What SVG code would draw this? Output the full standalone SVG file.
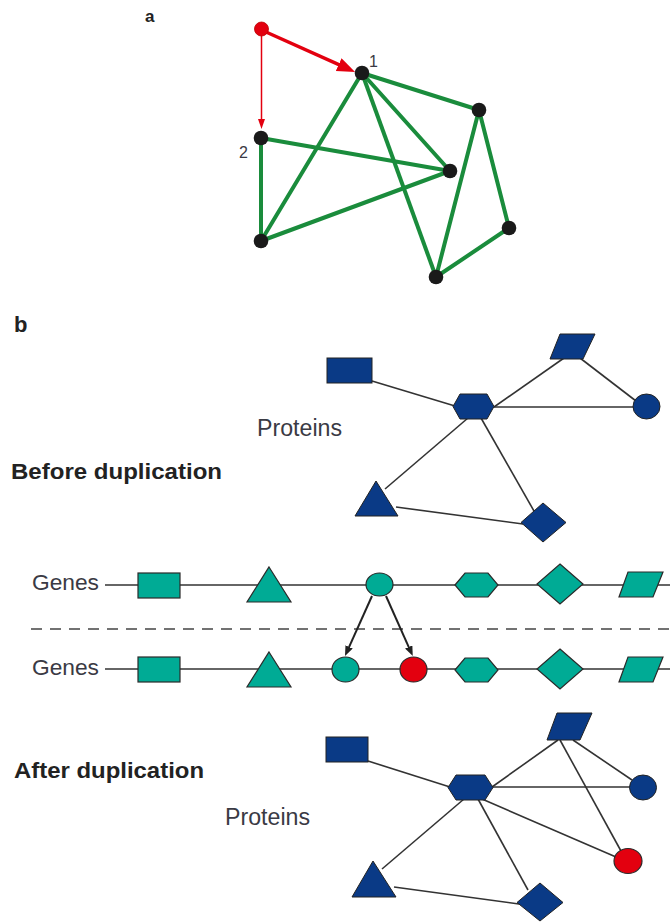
<svg xmlns="http://www.w3.org/2000/svg" width="670" height="922" viewBox="0 0 670 922">
<style>
  .lbl{font-family:"Liberation Sans",Arial,sans-serif;fill:#3a3a44}
  .bold{font-family:"Liberation Sans",Arial,sans-serif;font-weight:bold;fill:#222}
  .green{stroke:#1a8c3c;stroke-width:4;stroke-linecap:round;fill:none}
  .knode{fill:#1a1a1a}
  .edge{stroke:#333;stroke-width:1.6;fill:none}
  .prot{fill:#0a3a86;stroke:#222;stroke-width:1}
  .gene{fill:#00ab95;stroke:#2a2a2a;stroke-width:1.2}
  .red{fill:#e3000f;stroke:#2a2a2a;stroke-width:1.2}
  .dark{stroke:#222;stroke-width:2;fill:none}
</style>
<defs>
  <marker id="redBig" markerUnits="userSpaceOnUse" markerWidth="20" markerHeight="16" refX="2" refY="7" orient="auto">
    <path d="M0,0 L18,7 L0,14 z" fill="#e3000f"/>
  </marker>
  <marker id="redSmall" markerUnits="userSpaceOnUse" markerWidth="12" markerHeight="8" refX="1" refY="3.5" orient="auto">
    <path d="M0,0 L10,3.5 L0,7 z" fill="#e3000f"/>
  </marker>
  <marker id="darkHead" markerUnits="userSpaceOnUse" markerWidth="12" markerHeight="10" refX="1" refY="4" orient="auto">
    <path d="M0,0 L10,4 L0,8 z" fill="#222"/>
  </marker>
</defs>
<rect width="670" height="922" fill="#fff"/>

<!-- Panel a -->
<text class="bold" x="145" y="22" font-size="17">a</text>
<g id="a-connectors">
  <line class="green" x1="362" y1="73" x2="479" y2="110"/>
  <line class="green" x1="362" y1="73" x2="450" y2="171"/>
  <line class="green" x1="362" y1="73" x2="261" y2="241"/>
  <line class="green" x1="362" y1="73" x2="436" y2="277"/>
  <line class="green" x1="261" y1="138" x2="450" y2="171"/>
  <line class="green" x1="261" y1="138" x2="261" y2="241"/>
  <line class="green" x1="261" y1="241" x2="450" y2="171"/>
  <line class="green" x1="479" y1="110" x2="436" y2="277"/>
  <line class="green" x1="479" y1="110" x2="509" y2="228"/>
  <line class="green" x1="436" y1="277" x2="509" y2="228"/>
  <line x1="266" y1="32" x2="340.5" y2="65.4" stroke="#e3000f" stroke-width="3.4" marker-end="url(#redBig)"/>
  <line x1="261.5" y1="34" x2="261.5" y2="120" stroke="#e3000f" stroke-width="1.5" marker-end="url(#redSmall)"/>
</g>
<g id="a-red"><circle cx="261.5" cy="29" r="7" fill="#e3000f" stroke="#b00" stroke-width="0.8"/></g>
<g id="a-n1"><circle class="knode" cx="362" cy="73" r="7.3"/><text class="lbl" x="369" y="67" font-size="16">1</text></g>
<g id="a-n2"><circle class="knode" cx="261" cy="138" r="7.3"/><text class="lbl" x="239" y="158" font-size="16">2</text></g>
<g id="a-tr"><circle class="knode" cx="479" cy="110" r="7.3"/></g>
<g id="a-mr"><circle class="knode" cx="450" cy="171" r="7.3"/></g>
<g id="a-bl"><circle class="knode" cx="261" cy="241" r="7.3"/></g>
<g id="a-b"><circle class="knode" cx="436" cy="277" r="7.3"/></g>
<g id="a-r"><circle class="knode" cx="509" cy="228" r="7.3"/></g>

<!-- Panel b -->
<text class="bold" x="14" y="332" font-size="22">b</text>
<text class="bold" x="11" y="479" font-size="22" textLength="211" lengthAdjust="spacingAndGlyphs">Before duplication</text>
<text class="lbl" x="257" y="436" font-size="23" textLength="85" lengthAdjust="spacingAndGlyphs">Proteins</text>
<text class="bold" x="14" y="778" font-size="22" textLength="190" lengthAdjust="spacingAndGlyphs">After duplication</text>
<text class="lbl" x="225" y="825" font-size="23" textLength="85" lengthAdjust="spacingAndGlyphs">Proteins</text>

<g id="b-connectors">
  <!-- before -->
  <line class="edge" x1="372" y1="381" x2="455" y2="406"/>
  <line class="edge" x1="494" y1="407" x2="564" y2="358"/>
  <line class="edge" x1="580" y1="358" x2="636" y2="401"/>
  <line class="edge" x1="494" y1="407" x2="634" y2="407"/>
  <line class="edge" x1="468" y1="418" x2="385" y2="489"/>
  <line class="edge" x1="481" y1="418" x2="534" y2="511"/>
  <line class="edge" x1="396" y1="507" x2="523" y2="524"/>
  <!-- genes -->
  <line class="edge" x1="105" y1="585" x2="670" y2="585"/>
  <line x1="31" y1="629" x2="670" y2="629" stroke="#444" stroke-width="1.6" stroke-dasharray="11 8"/>
  <line class="edge" x1="105" y1="669" x2="670" y2="669"/>
  <line class="dark" x1="372" y1="596" x2="348.7" y2="647.8" marker-end="url(#darkHead)"/>
  <line class="dark" x1="386" y1="596" x2="409.1" y2="647.9" marker-end="url(#darkHead)"/>
  <!-- after -->
  <line class="edge" x1="368" y1="761" x2="450" y2="787"/>
  <line class="edge" x1="492" y1="787" x2="558" y2="740"/>
  <line class="edge" x1="573" y1="740" x2="632" y2="780"/>
  <line class="edge" x1="560" y1="740" x2="621" y2="851"/>
  <line class="edge" x1="492" y1="787" x2="630" y2="787"/>
  <line class="edge" x1="482" y1="799" x2="616" y2="857"/>
  <line class="edge" x1="464" y1="799" x2="382" y2="869"/>
  <line class="edge" x1="478" y1="799" x2="528" y2="890"/>
  <line class="edge" x1="394" y1="887" x2="519" y2="904"/>
</g>

<!-- Proteins before -->
<g id="pb-rect"><rect class="prot" x="327" y="358" width="45" height="25"/></g>
<g id="pb-para"><polygon class="prot" points="560,334 595,334 583,359 550,359"/></g>
<g id="pb-hex"><polygon class="prot" points="453,406.5 460,394 487,394 494,406.5 487,419 460,419"/></g>
<g id="pb-circle"><ellipse class="prot" cx="646.5" cy="406.5" rx="13.5" ry="12.5"/></g>
<g id="pb-tri"><polygon class="prot" points="376,481 398,516 355,516"/></g>
<g id="pb-diamond"><polygon class="prot" points="543,503 566,522.5 543,542 521,522.5"/></g>

<!-- Genes top -->
<text class="lbl" x="32" y="590" font-size="21.5" textLength="67" lengthAdjust="spacingAndGlyphs">Genes</text>
<g id="gt-rect"><rect class="gene" x="138" y="573" width="42" height="25"/></g>
<g id="gt-tri"><polygon class="gene" points="269,567 291,602 247,602"/></g>
<g id="gt-circle"><ellipse class="gene" cx="379.5" cy="584.5" rx="13.5" ry="11.5"/></g>
<g id="gt-hex"><polygon class="gene" points="455,585 465,573 488,573 498,585 488,597 465,597"/></g>
<g id="gt-diamond"><polygon class="gene" points="560,564 583,584 560,604 537,584"/></g>
<g id="gt-para"><polygon class="gene" points="628,572 663,572 653,597 619,597"/></g>

<!-- Genes bottom -->
<text class="lbl" x="32" y="675" font-size="21.5" textLength="67" lengthAdjust="spacingAndGlyphs">Genes</text>
<g id="gb-rect"><rect class="gene" x="138" y="657" width="42" height="25"/></g>
<g id="gb-tri"><polygon class="gene" points="269,652 291,687 247,687"/></g>
<g id="gb-circle"><ellipse class="gene" cx="345.5" cy="669.5" rx="13.5" ry="12.5"/></g>
<g id="gb-red"><ellipse class="red" cx="413.5" cy="669.5" rx="13.5" ry="12.5"/></g>
<g id="gb-hex"><polygon class="gene" points="455,670 465,658 488,658 498,670 488,682 465,682"/></g>
<g id="gb-diamond"><polygon class="gene" points="560,649 583,669 560,689 537,669"/></g>
<g id="gb-para"><polygon class="gene" points="628,657 663,657 653,682 619,682"/></g>

<!-- Proteins after -->
<g id="pa-rect"><rect class="prot" x="326" y="737" width="42" height="25"/></g>
<g id="pa-para"><polygon class="prot" points="557,713 592,713 580,740 547,740"/></g>
<g id="pa-hex"><polygon class="prot" points="448,787.5 456,775 485,775 493,787.5 485,800 456,800"/></g>
<g id="pa-circle"><ellipse class="prot" cx="643" cy="787.5" rx="13.5" ry="12.5"/></g>
<g id="pa-red"><ellipse class="red" cx="628" cy="861" rx="14" ry="12.5"/></g>
<g id="pa-tri"><polygon class="prot" points="373,861 396,897 352,897"/></g>
<g id="pa-diamond"><polygon class="prot" points="540,883 563,902.5 540,921 517,902.5"/></g>
</svg>
